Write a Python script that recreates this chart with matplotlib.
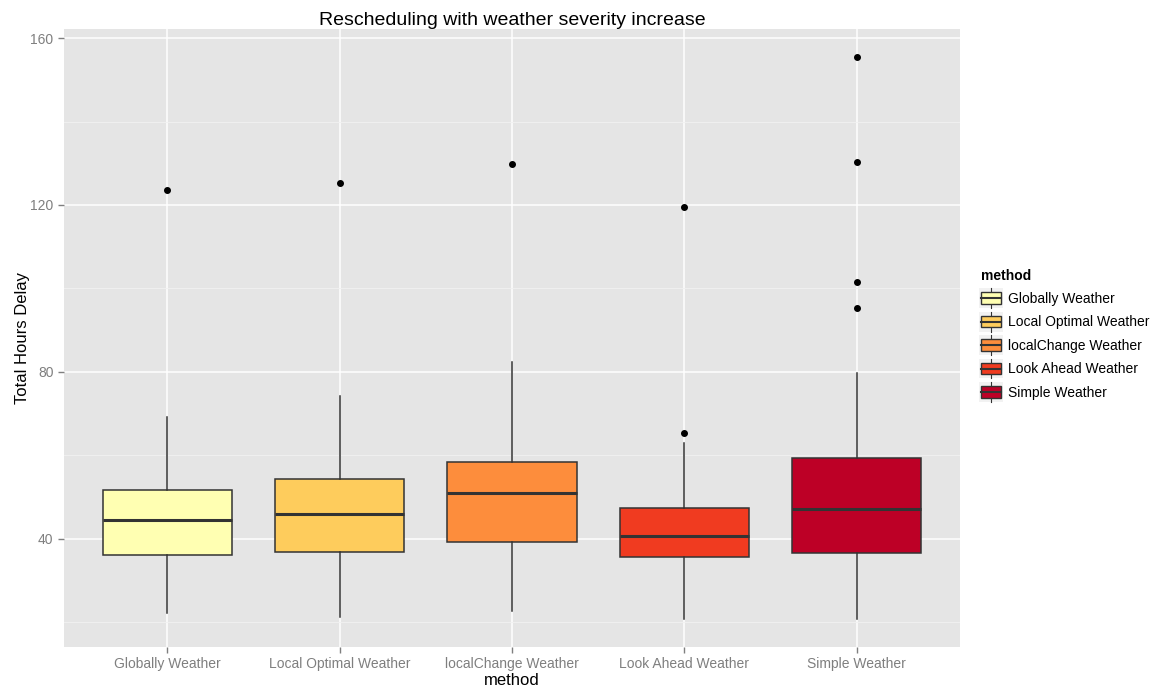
import matplotlib
matplotlib.use("Agg")
import matplotlib.pyplot as plt
from matplotlib.legend_handler import HandlerBase
from matplotlib.patches import Rectangle, Patch
from matplotlib.lines import Line2D

plt.rcParams['font.family'] = ['Liberation Sans', 'DejaVu Sans']

methods = ['Globally Weather', 'Local Optimal Weather', 'localChange Weather',
           'Look Ahead Weather', 'Simple Weather']
colors = ['#FFFFB2', '#FECC5C', '#FD8D3C', '#F03B20', '#BD0026']

whislo = [22.1, 21.2, 22.6, 20.6, 20.6]
q1 = [36.0, 36.8, 39.2, 35.6, 36.5]
med = [44.4, 45.9, 50.9, 40.6, 47.0]
q3 = [51.7, 54.3, 58.3, 47.4, 59.4]
whishi = [69.2, 74.2, 82.3, 63.0, 79.7]
fliers = [[123.6], [125.3], [129.8], [65.3, 119.5], [95.3, 101.5, 130.3, 155.5]]

stats = []
for i in range(len(methods)):
    stats.append(dict(whislo=whislo[i], q1=q1[i], med=med[i], q3=q3[i],
                      whishi=whishi[i], fliers=fliers[i], label=methods[i]))

fig = plt.figure(figsize=(11.59, 6.91), dpi=100)
ax = fig.add_axes([64 / 1159, 44 / 691, 896 / 1159, 618 / 691])
ax.set_facecolor('#E5E5E5')

ax.set_yticks([20, 60, 100, 140], minor=True)
ax.grid(True, which='major', color='white', linewidth=1.1)
ax.grid(True, which='minor', axis='y', color='#F2F2F2', linewidth=0.6)
ax.set_axisbelow(True)

bp = ax.bxp(stats, positions=range(1, 6), widths=0.75, patch_artist=True,
            showcaps=False,
            boxprops=dict(edgecolor='#333333', linewidth=1.1),
            medianprops=dict(color='#333333', linewidth=2.2),
            whiskerprops=dict(color='#333333', linewidth=1.1),
            flierprops=dict(marker='o', markerfacecolor='black', markeredgecolor='black',
                            markersize=4))
for patch, c in zip(bp['boxes'], colors):
    patch.set_facecolor(c)

ax.set_xlim(0.4, 5.6)
ax.set_ylim(14.0, 162.2)
ax.set_yticks([40, 80, 120, 160])
ax.tick_params(axis='both', which='major', colors='#7F7F7F', labelsize=10, length=4, width=1)
ax.tick_params(axis='y', which='minor', length=0)
for lab in ax.get_xticklabels() + ax.get_yticklabels():
    lab.set_color('#7F7F7F')
for s in ax.spines.values():
    s.set_visible(False)

ax.set_xlabel('method', fontsize=12, labelpad=1)
ax.set_ylabel('Total Hours Delay', fontsize=12, labelpad=0)
ax.set_title('Rescheduling with weather severity increase', fontsize=14, pad=2)


class BoxHandler(HandlerBase):
    def create_artists(self, legend, orig_handle, xdescent, ydescent, width, height, fontsize, trans):
        x0 = -xdescent
        y0 = -ydescent
        bg = Rectangle((x0 - 1, y0 - 3), width + 2, height + 6,
                       facecolor='#F2F2F2', edgecolor='none', transform=trans)
        cx = x0 + width / 2
        wl = Line2D([cx, cx], [y0 - 3, y0 + height + 3], color='#333333',
                    linewidth=0.8, transform=trans)
        box = Rectangle((x0 + 0.5, y0), width - 1, height,
                        facecolor=orig_handle.get_facecolor(), edgecolor='#333333',
                        linewidth=1, transform=trans)
        ml = Line2D([x0 + 0.5, x0 + width - 0.5],
                    [y0 + height / 2, y0 + height / 2],
                    color='#333333', linewidth=1.5, transform=trans)
        return [bg, wl, box, ml]


handles = [Patch(facecolor=c) for c in colors]
leg = fig.legend(handles, methods, handler_map={Patch: BoxHandler()},
                 loc='upper left', bbox_to_anchor=(975 / 1159, 1 - 263 / 691),
                 frameon=False, title='method', fontsize=10,
                 handlelength=1.5, handleheight=0.9, handletextpad=0.45,
                 labelspacing=0.68, borderaxespad=0)
leg.get_title().set_fontweight('bold')
leg.get_title().set_fontsize(10)
leg._legend_box.align = 'left'

fig.savefig('out.png', dpi=100)
